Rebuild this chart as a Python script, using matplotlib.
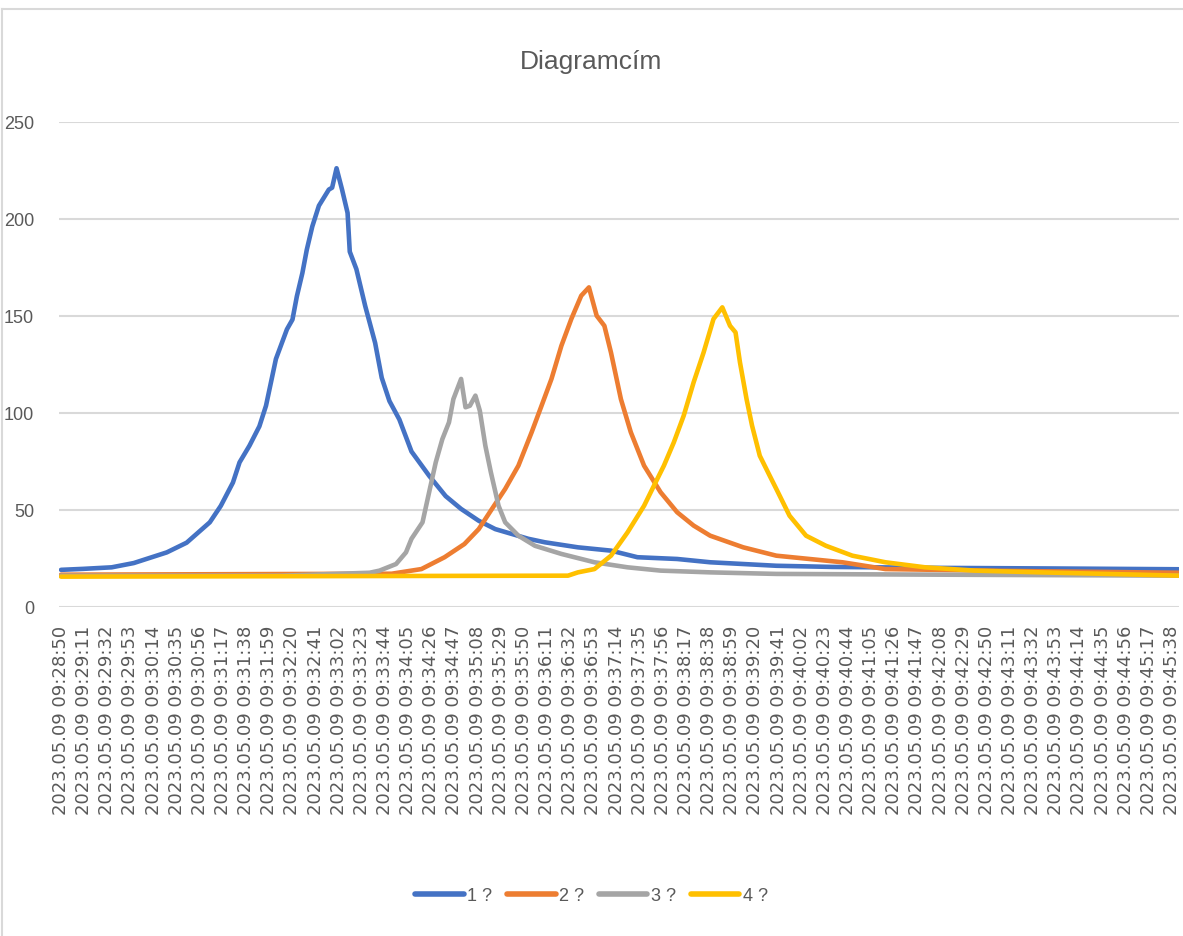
import matplotlib
matplotlib.use("Agg")
import matplotlib.pyplot as plt
from matplotlib.lines import Line2D

# ---- data (seconds since 09:28:50) ----
title = "Diagramcím"
series_names = ["1 ?", "2 ?", "3 ?", "4 ?"]
colors = ["#4472C4", "#ED7D31", "#A5A5A5", "#FFC000"]

tick_labels = [
    "2023.05.09 09:28:50", "2023.05.09 09:29:11", "2023.05.09 09:29:32", "2023.05.09 09:29:53",
    "2023.05.09 09:30:14", "2023.05.09 09:30:35", "2023.05.09 09:30:56", "2023.05.09 09:31:17",
    "2023.05.09 09:31:38", "2023.05.09 09:31:59", "2023.05.09 09:32:20", "2023.05.09 09:32:41",
    "2023.05.09 09:33:02", "2023.05.09 09:33:23", "2023.05.09 09:33:44", "2023.05.09 09:34:05",
    "2023.05.09 09:34:26", "2023.05.09 09:34:47", "2023.05.09 09:35:08", "2023.05.09 09:35:29",
    "2023.05.09 09:35:50", "2023.05.09 09:36:11", "2023.05.09 09:36:32", "2023.05.09 09:36:53",
    "2023.05.09 09:37:14", "2023.05.09 09:37:35", "2023.05.09 09:37:56", "2023.05.09 09:38:17",
    "2023.05.09 09:38:38", "2023.05.09 09:38:59", "2023.05.09 09:39:20", "2023.05.09 09:39:41",
    "2023.05.09 09:40:02", "2023.05.09 09:40:23", "2023.05.09 09:40:44", "2023.05.09 09:41:05",
    "2023.05.09 09:41:26", "2023.05.09 09:41:47", "2023.05.09 09:42:08", "2023.05.09 09:42:29",
    "2023.05.09 09:42:50", "2023.05.09 09:43:11", "2023.05.09 09:43:32", "2023.05.09 09:43:53",
    "2023.05.09 09:44:14", "2023.05.09 09:44:35", "2023.05.09 09:44:56", "2023.05.09 09:45:17",
    "2023.05.09 09:45:38",
]
tick_step_s = 21

t1 = [0, 20, 46, 66, 96, 114, 135, 145, 156, 162, 171, 180, 186, 195, 205, 210, 214, 219, 223,
      228, 234, 243, 246, 250, 255, 260, 262, 268, 276, 285, 291, 298, 307, 318, 334, 349, 363,
      379, 394, 409, 424, 439, 469, 499, 523, 559, 589, 619, 649, 700, 800, 900, 1014]
v1 = [19, 19.5, 20.3, 22.5, 28, 33, 43.5, 52, 64, 74.4, 83, 93, 103.6, 127.7, 143, 148, 160, 172,
      184, 196, 206.7, 215, 216, 226, 215, 203, 183, 174, 155, 136, 118, 106, 96.5, 80, 67.5, 57,
      50.4, 44.3, 40, 37.5, 35, 33.2, 30.6, 28.9, 25.5, 24.6, 22.9, 22, 21.1, 20.5, 20, 19.7, 19.3]

t2 = [0, 300, 327, 348, 366, 379, 391, 403, 415, 427, 436, 445, 454, 463, 472, 479, 486, 493, 499,
      508, 517, 529, 544, 559, 574, 589, 619, 649, 679, 709, 748, 850, 1014]
v2 = [16.5, 17, 19.4, 25.5, 32.3, 40, 50.4, 60.7, 72.7, 89.9, 103.6, 117.4, 134.5, 148.3, 160.3,
      164.6, 150, 144.8, 131, 107, 89.9, 72.7, 59, 48.7, 41.8, 36.6, 30.6, 26.3, 24.6, 22.9, 19.4,
      18.5, 17.5]

t3 = [0, 200, 280, 289, 304, 313, 318, 328, 334, 340, 346, 352, 356, 363, 367, 371, 376, 380, 385,
      390, 397, 403, 415, 430, 454, 484, 514, 544, 589, 649, 800, 1014]
v3 = [16, 16, 17.5, 18.6, 22, 28, 35, 43.5, 59, 74.4, 86.4, 95, 107, 117.4, 102.8, 103.6, 108.8,
      101, 83, 69.3, 52, 43.5, 36.6, 31.4, 27.2, 22.9, 20.3, 18.6, 17.7, 16.9, 16.5, 16]

t4 = [0, 460, 469, 484, 499, 514, 529, 538, 547, 556, 565, 574, 583, 592, 600, 607, 612, 616, 622,
      627, 634, 643, 649, 661, 676, 694, 718, 748, 784, 829, 889, 949, 1014]
v4 = [15.5, 16, 17.7, 19.4, 26.3, 38.3, 52, 62.4, 72.7, 84.7, 98.5, 115.7, 131, 148.3, 154.3,
      144.8, 141.4, 126, 107, 93.3, 77.8, 67.5, 60.7, 46.9, 36.6, 31.4, 26.3, 22.9, 20.3, 18.6,
      17.7, 16.9, 16]

y_ticks = [0, 50, 100, 150, 200, 250]

# ---- figure ----
W, H = 1183, 937
fig = plt.figure(figsize=(W / 100, H / 100), dpi=100)
fig.patch.set_facecolor("white")

text_color = "#595959"
grid_color = "#D9D9D9"
sans = ["Liberation Sans", "DejaVu Sans"]

ax = fig.add_axes([59 / W, 1 - 607.7 / H, (1179 - 59) / W, (607.7 - 122.7) / H])
for sp in ax.spines.values():
    sp.set_visible(False)

px_per_s = (1172 - 61) / 1008.0
ax.set_ylim(0, 250)
ax.set_xlim(-2 / px_per_s, 1008 + 7 / px_per_s)
ax.set_yticks(y_ticks)
ax.yaxis.grid(True, color=grid_color, linewidth=1.5)
ax.set_axisbelow(True)
ax.tick_params(axis="y", length=0, pad=18, labelcolor=text_color, labelsize=13)
for lab in ax.get_yticklabels():
    lab.set_fontfamily(sans)

xt = [i * tick_step_s for i in range(len(tick_labels))]
ax.set_xticks(xt)
ax.set_xticklabels(tick_labels, rotation=90, fontsize=13, color=text_color,
                   family="DejaVu Sans", va="top", ha="center")
ax.tick_params(axis="x", length=0, pad=13)

for t, v, c, name in zip([t1, t2, t3, t4], [v1, v2, v3, v4], colors, series_names):
    ax.plot(t, v, color=c, linewidth=3.3, solid_joinstyle="round", solid_capstyle="round",
            label=name)

fig.text(0.5, 1 - 62 / H, title, ha="center", va="center", fontsize=19,
         color=text_color, family=sans)

handles = [Line2D([0], [0], color=c, linewidth=4, solid_capstyle="round") for c in colors]
leg = fig.legend(handles, series_names, loc="center", bbox_to_anchor=(0.5, 1 - 897 / H),
                 ncol=4, frameon=False, handlelength=2.7, handletextpad=0.2,
                 columnspacing=0.8, prop={"family": sans, "size": 13})
for txt in leg.get_texts():
    txt.set_color(text_color)

# chart border (top and left edges visible)
fig.add_artist(Line2D([1.5 / W, 1.5 / W], [0, 1 - 10 / H], color=grid_color, linewidth=1.5,
                      transform=fig.transFigure))
fig.add_artist(Line2D([1.5 / W, 1], [1 - 10 / H, 1 - 10 / H], color=grid_color, linewidth=1.5,
                      transform=fig.transFigure))

fig.savefig("out.png", dpi=100, facecolor="white")
